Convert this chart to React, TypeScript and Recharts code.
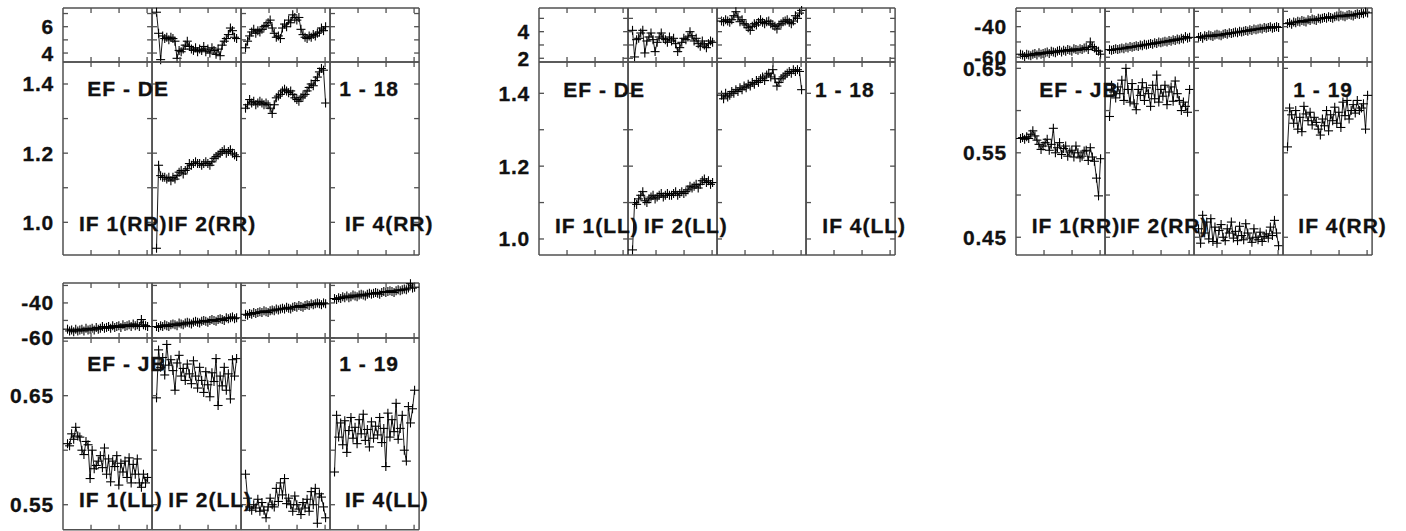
import React from "react";
import { LineChart, Line, XAxis, YAxis } from "recharts";

// EF - DE, 1 - 18, RR (IF 1 and IF 4 have no data)
const deRrPhase2 = [7.1, 5.5, 3.5, 5.3, 5.1, 5.2, 5.0, 5.2, 5.1, 4.9, 3.6, 4.2, 4.1, 4.3, 4.6, 4.9, 4.5, 4.3, 4.2, 4.4, 4.1, 4.3, 4.2, 4.5, 4.1, 4.3, 4.0, 4.4, 4.2, 3.9, 4.3, 3.8, 4.6, 4.9, 5.1, 5.4, 5.9, 5.7, 5.2, 5.1];
const deRrPhase3 = [4.4, 4.9, 5.3, 5.6, 5.8, 5.5, 5.7, 5.6, 5.8, 6.0, 6.1, 6.3, 6.5, 5.9, 5.5, 5.2, 5.3, 5.1, 5.9, 6.2, 6.0, 6.5, 6.3, 6.9, 6.7, 6.5, 6.7, 5.8, 5.4, 5.2, 5.1, 5.3, 5.2, 5.4, 5.3, 5.5, 5.6, 5.9, 5.7, 6.0];
const deRrAmp2 = [0.925, 1.165, 1.135, 1.13, 1.13, 1.125, 1.13, 1.12, 1.13, 1.125, 1.135, 1.145, 1.15, 1.14, 1.15, 1.155, 1.17, 1.165, 1.17, 1.175, 1.17, 1.17, 1.165, 1.17, 1.175, 1.17, 1.165, 1.175, 1.185, 1.19, 1.195, 1.2, 1.205, 1.21, 1.2, 1.205, 1.21, 1.2, 1.195, 1.19];
const deRrAmp3 = [1.33, 1.34, 1.355, 1.345, 1.35, 1.34, 1.345, 1.35, 1.345, 1.34, 1.345, 1.34, 1.33, 1.315, 1.34, 1.36, 1.365, 1.37, 1.38, 1.385, 1.38, 1.375, 1.38, 1.37, 1.36, 1.355, 1.35, 1.36, 1.365, 1.37, 1.38, 1.39, 1.4, 1.395, 1.41, 1.42, 1.435, 1.445, 1.44, 1.345];

// EF - DE, 1 - 18, LL
const deLlPhase2 = [4.1, 2.1, 3.4, 3.5, 3.9, 4.1, 2.4, 3.3, 3.6, 3.9, 3.4, 2.5, 3.2, 3.6, 3.9, 3.5, 3.4, 3.2, 3.6, 3.3, 3.5, 3.1, 2.5, 2.8, 3.2, 3.5, 3.4, 3.6, 4.0, 3.7, 3.3, 3.5, 3.1, 2.9, 3.3, 3.0, 2.8, 3.1, 3.3, 3.2];
const deLlPhase3 = [4.8, 4.75, 4.9, 4.8, 4.7, 4.9, 5.2, 5.5, 5.1, 4.75, 4.9, 4.6, 4.5, 4.3, 4.1, 4.4, 4.6, 4.5, 4.7, 4.9, 4.7, 4.6, 4.75, 4.8, 4.6, 4.5, 4.4, 4.2, 4.5, 4.6, 4.75, 4.8, 4.9, 4.7, 4.6, 4.8, 5.2, 5.0, 5.4, 5.6];
const deLlAmp2 = [0.97, 1.1, 1.095, 1.11, 1.12, 1.13, 1.105, 1.1, 1.11, 1.115, 1.12, 1.11, 1.115, 1.12, 1.125, 1.115, 1.12, 1.125, 1.12, 1.12, 1.125, 1.13, 1.12, 1.125, 1.13, 1.125, 1.13, 1.135, 1.145, 1.14, 1.145, 1.15, 1.14, 1.15, 1.16, 1.165, 1.155, 1.16, 1.15, 1.155];
const deLlAmp3 = [1.395, 1.385, 1.4, 1.39, 1.395, 1.405, 1.4, 1.41, 1.405, 1.415, 1.41, 1.42, 1.415, 1.425, 1.42, 1.43, 1.425, 1.435, 1.43, 1.44, 1.445, 1.435, 1.45, 1.455, 1.445, 1.465, 1.44, 1.42, 1.43, 1.44, 1.445, 1.45, 1.455, 1.46, 1.455, 1.465, 1.46, 1.465, 1.46, 1.41];

// EF - JB, 1 - 19, RR
const jbRrPhase1 = [-58, -58.5, -59.5, -58, -58.5, -59, -58, -57.5, -58.5, -57, -58, -57.5, -57, -56.5, -57.5, -56, -56.5, -57, -56, -55.5, -56.5, -55.5, -56, -55, -55.5, -56, -54.5, -55, -55.5, -54.5, -55, -54, -53.5, -55, -50, -53, -54, -55.5, -56, -58];
const jbRrPhase2 = [-55, -55.5, -55, -54.5, -55, -54.5, -54, -54.5, -53.5, -54, -53, -53.5, -53, -52.5, -53, -52, -52.5, -51.5, -52, -51.5, -51, -51.5, -50.5, -51, -50, -50.5, -50, -49.5, -50, -49, -49.5, -48.5, -49, -48, -48.5, -47.5, -48, -46.5, -47.5, -47];
const jbRrPhase3 = [-47, -46.5, -47.5, -46, -46.5, -45.5, -46, -46.5, -45.5, -45, -45.5, -46, -45, -44.5, -45, -44, -44.5, -44, -43.5, -44, -43, -43.5, -43, -42.5, -43, -42, -42.5, -41.5, -42, -41.5, -41, -41.5, -40.5, -41, -40.5, -40, -41, -40.5, -40, -40.5];
const jbRrPhase4 = [-38, -37.5, -38.5, -37, -37.5, -36.5, -37, -36, -36.5, -37, -35.5, -36, -35, -35.5, -36, -34.5, -35, -34.5, -34, -34.5, -33.5, -34, -34.5, -33.5, -33, -33.5, -32.5, -33, -33.5, -32.5, -32, -32.5, -33, -32, -31.5, -32, -31, -31.5, -30.5, -31];
const jbRrAmp1 = [0.567, 0.568, 0.566, 0.569, 0.567, 0.572, 0.576, 0.57, 0.565, 0.56, 0.554, 0.558, 0.562, 0.566, 0.553, 0.56, 0.579, 0.55, 0.556, 0.562, 0.548, 0.555, 0.558, 0.546, 0.551, 0.553, 0.545, 0.558, 0.55, 0.544, 0.546, 0.552, 0.553, 0.541, 0.556, 0.545, 0.54, 0.52, 0.499, 0.543];
const jbRrAmp2 = [0.593, 0.63, 0.622, 0.615, 0.628, 0.62, 0.636, 0.612, 0.65, 0.625, 0.61, 0.632, 0.608, 0.601, 0.625, 0.618, 0.633, 0.612, 0.627, 0.62, 0.605, 0.63, 0.614, 0.642, 0.61, 0.625, 0.617, 0.63, 0.607, 0.622, 0.628, 0.611, 0.635, 0.62, 0.612, 0.6, 0.61, 0.605, 0.598, 0.625];
const jbRrAmp3 = [0.46, 0.443, 0.476, 0.455, 0.468, 0.448, 0.472, 0.445, 0.462, 0.443, 0.458, 0.465, 0.45, 0.446, 0.46, 0.455, 0.468, 0.449, 0.457, 0.446, 0.463, 0.452, 0.447, 0.466, 0.455, 0.449, 0.444, 0.46, 0.45, 0.447, 0.456, 0.445, 0.451, 0.454, 0.449, 0.462, 0.452, 0.47, 0.455, 0.44];
const jbRrAmp4 = [0.557, 0.603, 0.595, 0.585, 0.6, 0.578, 0.592, 0.575, 0.605, 0.596, 0.588, 0.598, 0.583, 0.592, 0.586, 0.578, 0.571, 0.59, 0.582, 0.6, 0.576, 0.595, 0.588, 0.604, 0.585, 0.598, 0.58, 0.61, 0.594, 0.612, 0.59, 0.6, 0.607, 0.597, 0.612, 0.6, 0.603, 0.608, 0.578, 0.618];

// EF - JB, 1 - 19, LL
const jbLlPhase1 = [-55, -56, -55.5, -56.5, -55, -56, -55.5, -55, -56, -54.5, -55.5, -55, -54.5, -55.5, -54, -55, -54.5, -53.5, -54.5, -54, -53.5, -54.5, -53, -54, -53.5, -53, -54, -52.5, -53.5, -53, -52.5, -53.5, -52, -53, -52.5, -53.5, -49.5, -52.5, -53, -53.5];
const jbLlPhase2 = [-53.5, -54, -53, -53.5, -52.5, -53, -53.5, -52.5, -52, -52.5, -53, -51.5, -52, -52.5, -51.5, -51, -51.5, -52, -51, -50.5, -51, -51.5, -50.5, -50, -50.5, -51, -50, -49.5, -50, -50.5, -49.5, -49, -49.5, -50, -48.5, -49, -48.5, -48, -49, -48.5];
const jbLlPhase3 = [-46.5, -47, -46, -46.5, -45.5, -46, -45.5, -45, -45.5, -44.5, -45, -45.5, -44.5, -44, -44.5, -43.5, -44, -43.5, -43, -43.5, -42.5, -43, -43.5, -42.5, -42, -42.5, -41.5, -42, -42.5, -41.5, -41, -41.5, -40.5, -41, -40.5, -40, -40.5, -41, -40, -40.5];
const jbLlPhase4 = [-37.5, -38, -37, -37.5, -36.5, -37, -36, -37, -36.5, -35.5, -36, -36.5, -35.5, -35, -35.5, -36, -35, -34.5, -35, -34.5, -34, -34.5, -35, -34, -33.5, -34, -33.5, -33, -33.5, -34, -33, -32.5, -33, -32.5, -32, -32.5, -31.5, -29, -31.5, -31];
const jbLlAmp1 = [0.606, 0.604, 0.615, 0.61, 0.621, 0.613, 0.612, 0.6, 0.596, 0.608, 0.605, 0.574, 0.6, 0.583, 0.586, 0.59, 0.595, 0.584, 0.602, 0.578, 0.592, 0.571, 0.59, 0.585, 0.595, 0.568, 0.588, 0.58, 0.59, 0.575, 0.593, 0.57, 0.587, 0.578, 0.592, 0.57, 0.566, 0.578, 0.57, 0.575];
const jbLlAmp2 = [0.648, 0.692, 0.676, 0.685, 0.669, 0.697, 0.678, 0.683, 0.673, 0.655, 0.68, 0.687, 0.668, 0.675, 0.664, 0.679, 0.67, 0.661, 0.682, 0.668, 0.657, 0.676, 0.664, 0.653, 0.672, 0.66, 0.649, 0.671, 0.663, 0.684, 0.641, 0.668, 0.659, 0.676, 0.655, 0.67, 0.647, 0.683, 0.668, 0.684];
const jbLlAmp3 = [0.578, 0.556, 0.548, 0.545, 0.55, 0.547, 0.555, 0.544, 0.552, 0.545, 0.538, 0.548, 0.556, 0.55, 0.548, 0.565, 0.553, 0.57, 0.559, 0.574, 0.551, 0.556, 0.55, 0.544, 0.558, 0.55, 0.546, 0.541, 0.552, 0.547, 0.555, 0.544, 0.562, 0.55, 0.565, 0.533, 0.56, 0.557, 0.548, 0.538];
const jbLlAmp4 = [0.58, 0.632, 0.612, 0.625, 0.605, 0.627, 0.598, 0.618, 0.63, 0.611, 0.621, 0.606, 0.628, 0.615, 0.633, 0.609, 0.619, 0.603, 0.626, 0.611, 0.622, 0.614, 0.63, 0.607, 0.62, 0.585, 0.634, 0.612, 0.628, 0.617, 0.643, 0.61, 0.62, 0.632, 0.6, 0.59, 0.64, 0.625, 0.638, 0.655];

const deAmpTicks = [1.0, 1.1, 1.2, 1.3, 1.4];
const deAmpLabels = [1.0, 1.2, 1.4];
const jbPhaseTicks = [-60, -50, -40, -30];
const jbPhaseLabels = [-60, -40];

const FONT = "'Liberation Sans', Arial, Helvetica, sans-serif";
const FRAME = "#505050";
const SUB_W = 89.1;
const N_SAMPLES = 40;
const X_LO = -2.2;
const X_HI = 41.2;
const X_TICKS = [28, 56, 84].map((p) => X_LO + (p / 89) * (X_HI - X_LO));

const Plus = (props: any) => {
  const { cx, cy } = props;
  if (cx == null || cy == null) return <g />;
  return (
    <g stroke="#000" strokeWidth={1.1}>
      <line x1={cx - 4.5} y1={cy} x2={cx + 4.5} y2={cy} />
      <line x1={cx} y1={cy - 4.5} x2={cx} y2={cy + 4.5} />
    </g>
  );
};

// ticks point into the frame, AIPS style
const InTick = (props: any) => {
  const { x, y, payload, side, labels, digits } = props;
  const L = 5;
  let d = [x, y, x, y + L];
  if (side === "left") d = [x, y, x + L, y];
  if (side === "right") d = [x, y, x - L, y];
  if (side === "bottom") d = [x, y, x, y - L];
  const v = payload.value;
  const lab = labels ? labels.find((l: number) => Math.abs(l - v) < 1e-6) : undefined;
  return (
    <g>
      <line x1={d[0]} y1={d[1]} x2={d[2]} y2={d[3]} stroke={FRAME} strokeWidth={1.3} />
      {lab !== undefined && (
        <text x={x - 9} y={y + 7.5} textAnchor="end" fontFamily={FONT} fontWeight="bold" fontSize={21}
          letterSpacing={0.8} fill="#111" stroke="#111" strokeWidth={0.3}>
          {lab.toFixed(digits)}
        </text>
      )}
    </g>
  );
};

const axisLine = { stroke: FRAME, strokeWidth: 1.5 };

function Cell(props: any) {
  const { left, top, height, values, domain, ticks, labels, digits } = props;
  const padL = labels ? 66 : 6;
  const pad = 12;
  const empty = values.length === 0;
  // empty IFs still need sample rows so the axes build their ticks
  const rows = empty
    ? Array.from({ length: N_SAMPLES }, (_, i) => ({ t: i }))
    : values.map((v: number, i: number) => ({ t: i, v }));
  return (
    <div style={{ position: "absolute", left: left - padL, top: top - pad }}>
      <LineChart
        width={SUB_W + padL + pad}
        height={height + 2 * pad}
        data={rows}
        margin={{ top: pad - 1, right: pad - 1, bottom: pad - 1, left: padL - 1 }}
      >
        <XAxis xAxisId="b" type="number" dataKey="t" domain={[X_LO, X_HI]} ticks={X_TICKS} interval={0}
          allowDataOverflow={empty}
          height={1} tickSize={0} tickMargin={0} tickLine={false} axisLine={axisLine}
          tick={(p: any) => <InTick {...p} side="bottom" />} />
        <XAxis xAxisId="t" orientation="top" type="number" dataKey="t" domain={[X_LO, X_HI]} ticks={X_TICKS} interval={0}
          allowDataOverflow={empty}
          height={1} tickSize={0} tickMargin={0} tickLine={false} axisLine={axisLine}
          tick={(p: any) => <InTick {...p} side="top" />} />
        <YAxis yAxisId="l" type="number" domain={domain} ticks={ticks} interval={0}
          allowDataOverflow={empty}
          width={1} tickSize={0} tickMargin={0} tickLine={false} axisLine={axisLine}
          tick={(p: any) => <InTick {...p} side="left" labels={labels} digits={digits} />} />
        <YAxis yAxisId="r" orientation="right" type="number" domain={domain} ticks={ticks} interval={0}
          allowDataOverflow={empty}
          width={1} tickSize={0} tickMargin={0} tickLine={false} axisLine={axisLine}
          tick={(p: any) => <InTick {...p} side="right" />} />
        <Line xAxisId="b" yAxisId="l" dataKey="v" stroke="#000" strokeWidth={0.9}
          dot={<Plus />} activeDot={false} isAnimationActive={false} />
      </LineChart>
    </div>
  );
}

const panels = [
  {
    left: 62.7, top: 8, phaseH: 54, ampH: 193,
    phase: [[], deRrPhase2, deRrPhase3, []], amp: [[], deRrAmp2, deRrAmp3, []],
    phaseDomain: [3.32, 7.42], phaseTicks: [4, 5, 6, 7], phaseLabels: [4, 6], phaseDigits: 0,
    ampDomain: [0.9055, 1.4636], ampTicks: deAmpTicks, ampLabels: deAmpLabels, ampDigits: 1,
  },
  {
    left: 539, top: 8, phaseH: 54, ampH: 193,
    phase: [[], deLlPhase2, deLlPhase3, []], amp: [[], deLlAmp2, deLlAmp3, []],
    phaseDomain: [1.72, 5.78], phaseTicks: [2, 3, 4, 5], phaseLabels: [2, 4], phaseDigits: 0,
    ampDomain: [0.956, 1.486], ampTicks: deAmpTicks, ampLabels: deAmpLabels, ampDigits: 1,
  },
  {
    left: 1016, top: 8, phaseH: 54, ampH: 193,
    phase: [jbRrPhase1, jbRrPhase2, jbRrPhase3, jbRrPhase4], amp: [jbRrAmp1, jbRrAmp2, jbRrAmp3, jbRrAmp4],
    phaseDomain: [-63.1, -27.8], phaseTicks: jbPhaseTicks, phaseLabels: jbPhaseLabels, phaseDigits: 0,
    ampDomain: [0.429, 0.6575], ampTicks: [0.45, 0.5, 0.55, 0.6, 0.65], ampLabels: [0.45, 0.55, 0.65], ampDigits: 2,
  },
  {
    left: 62.7, top: 283.3, phaseH: 55, ampH: 191.7,
    phase: [jbLlPhase1, jbLlPhase2, jbLlPhase3, jbLlPhase4], amp: [jbLlAmp1, jbLlAmp2, jbLlAmp3, jbLlAmp4],
    phaseDomain: [-60.05, -28.6], phaseTicks: jbPhaseTicks, phaseLabels: jbPhaseLabels, phaseDigits: 0,
    ampDomain: [0.5271, 0.7029], ampTicks: [0.55, 0.6, 0.65, 0.7], ampLabels: [0.55, 0.65], ampDigits: 2,
  },
];

const notes = [
  { text: "EF - DE", x: 87.3, y: 96 }, { text: "1 - 18", x: 339.3, y: 96 },
  { text: "IF 1(RR)", x: 79, y: 231 }, { text: "IF 2(RR)", x: 167.7, y: 231 }, { text: "IF 4(RR)", x: 345, y: 231 },
  { text: "EF - DE", x: 563.3, y: 96.5 }, { text: "1 - 18", x: 815, y: 96.5 },
  { text: "IF 1(LL)", x: 555, y: 232.5 }, { text: "IF 2(LL)", x: 644, y: 232.5 }, { text: "IF 4(LL)", x: 822.3, y: 232.5 },
  { text: "EF - JB", x: 1039.3, y: 96.7 }, { text: "1 - 19", x: 1293.3, y: 96.7 },
  { text: "IF 1(RR)", x: 1031.7, y: 232.7 }, { text: "IF 2(RR)", x: 1120, y: 232.7 }, { text: "IF 4(RR)", x: 1298.3, y: 232.7 },
  { text: "EF - JB", x: 87.3, y: 371 }, { text: "1 - 19", x: 339.3, y: 371 },
  { text: "IF 1(LL)", x: 79, y: 507.3 }, { text: "IF 2(LL)", x: 168.3, y: 507.3 }, { text: "IF 4(LL)", x: 345, y: 507.3 },
];

export default function App() {
  return (
    <div style={{ position: "absolute", left: 0, top: 0, width: 1406, height: 531, background: "#fff", overflow: "hidden" }}>
      {panels.map((p, pi) =>
        [0, 1, 2, 3].map((k) => (
          <React.Fragment key={`${pi}-${k}`}>
            <Cell left={p.left + k * SUB_W} top={p.top} height={p.phaseH} values={p.phase[k]}
              domain={p.phaseDomain} ticks={p.phaseTicks} labels={k === 0 ? p.phaseLabels : undefined} digits={p.phaseDigits} />
            <Cell left={p.left + k * SUB_W} top={p.top + p.phaseH} height={p.ampH} values={p.amp[k]}
              domain={p.ampDomain} ticks={p.ampTicks} labels={k === 0 ? p.ampLabels : undefined} digits={p.ampDigits} />
          </React.Fragment>
        ))
      )}
      <svg width={1406} height={531} style={{ position: "absolute", left: 0, top: 0, pointerEvents: "none" }}>
        {notes.map((n, i) => (
          <text key={i} x={n.x} y={n.y} fontFamily={FONT} fontWeight="bold" fontSize={21} letterSpacing={1.0}
            fill="#111" stroke="#111" strokeWidth={0.3}>
            {n.text}
          </text>
        ))}
      </svg>
    </div>
  );
}
